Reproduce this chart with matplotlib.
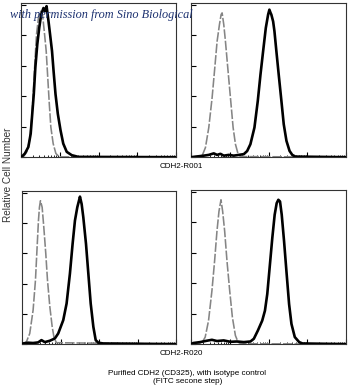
import numpy as np
import matplotlib
matplotlib.use('Agg')
from matplotlib import pyplot as plt
from matplotlib.ticker import LogLocator, NullFormatter, MultipleLocator

plt.rcParams['font.family'] = ['Liberation Sans', 'DejaVu Sans']

# log10 fluorescence / relative count (% of max)
tl_iso_x = [0.0, 0.06, 0.15, 0.22, 0.28, 0.32, 0.36, 0.40, 0.46, 0.51, 0.56, 0.60,
            0.65, 0.69, 0.73, 0.77, 0.83, 0.90, 0.99, 4.0]
tl_iso_y = [0, 0.2, 3.5, 11, 26, 43.6, 63, 80.5, 93.5, 95.7, 92.4, 82.6,
            69.6, 52.3, 35, 19.7, 8.9, 2.4, 0.2, 0]
tl_ab_x = [0.0, 0.017, 0.10, 0.19, 0.25, 0.29, 0.33, 0.37, 0.42, 0.47, 0.52, 0.58,
           0.62, 0.66, 0.71, 0.75, 0.80, 0.84, 0.89, 0.95, 1.02, 1.09, 1.18, 1.31,
           1.48, 4.0]
tl_ab_y = [0, 0.2, 2.4, 6.7, 15.4, 28.4, 41.4, 58.8, 74, 84.8, 93.5, 97.8,
           95.7, 99, 89, 80.5, 69.6, 56.6, 41.4, 28.4, 17.6, 8.9, 3.5, 1.3,
           0.2, 0]

tr_iso_x = [0.0, 0.284, 0.37, 0.456, 0.542, 0.611, 0.671, 0.731, 0.774, 0.80, 0.843,
            0.886, 0.946, 1.015, 1.084, 1.144, 1.213, 1.273, 4.0]
tr_iso_y = [0, 0.9, 6.3, 19.4, 39, 58.6, 76, 86.9, 93.5, 94.6, 86.9,
            76, 58.6, 39, 19.4, 8.5, 2, 0.4, 0]
tr_ab_x = [0.0, 0.327, 0.456, 0.585, 0.671, 0.757, 0.843, 0.972, 1.10, 1.23, 1.36,
           1.445, 1.53, 1.634, 1.72, 1.79, 1.858, 1.927, 1.987, 2.02, 2.05, 2.07,
           2.116, 2.15, 2.20, 2.26, 2.33, 2.39, 2.46, 2.54, 2.61, 2.69, 4.0]
tr_ab_y = [0, 1, 1.5, 2.5, 1.5, 2.2, 1, 1.5, 1, 1.5, 2,
           4, 8.5, 19.4, 36.8, 54.2, 69.5, 84.7, 93.5, 96.7, 94.6, 93.5,
           89, 82.6, 69.5, 54.2, 36.8, 21.6, 10.7, 4.1, 1.5, 0.4, 0]

bl_iso_x = [0.0, 0.113, 0.2, 0.287, 0.348, 0.391, 0.426, 0.452, 0.478, 0.522, 0.565,
            0.617, 0.661, 0.722, 0.783, 0.835, 0.896, 4.0]
bl_iso_y = [0, 1.5, 7, 22.4, 42.1, 64, 81.6, 90.4, 94.7, 90.4, 77.2,
            59.6, 42.1, 24.6, 11.4, 3.7, 0.9, 0]
bl_ab_x = [0.0, 0.026, 0.157, 0.287, 0.417, 0.504, 0.591, 0.722, 0.852, 0.939, 1.07,
           1.157, 1.243, 1.313, 1.374, 1.435, 1.478, 1.504, 1.548, 1.591, 1.661,
           1.722, 1.783, 1.852, 1.913, 1.983, 2.11, 4.0]
bl_ab_y = [0, 0.4, 0.9, 0.7, 1.1, 2.6, 1.3, 2.2, 3.7, 7, 15.8,
           26.8, 46.5, 66.2, 81.6, 90.4, 94.7, 97.4, 92.5, 83.8, 66.2,
           46.5, 26.8, 11.4, 2.6, 0.9, 0.4, 0]

br_iso_x = [0.0, 0.277, 0.364, 0.45, 0.537, 0.606, 0.667, 0.719, 0.771, 0.814, 0.866,
            0.926, 0.996, 1.065, 1.143, 1.212, 1.273, 4.0]
br_iso_y = [0, 0.7, 4.6, 15.4, 34.9, 54.4, 74, 87, 94.6, 87, 74,
            54.4, 34.9, 17.6, 5.6, 1.3, 0.2, 0]
br_ab_x = [0.0, 0.06, 0.234, 0.407, 0.537, 0.667, 0.84, 1.013, 1.186, 1.359, 1.532,
           1.619, 1.723, 1.835, 1.905, 1.965, 2.026, 2.095, 2.156, 2.208, 2.251,
           2.294, 2.338, 2.398, 2.459, 2.528, 2.589, 2.675, 2.788, 2.874, 4.0]
br_ab_y = [0, 0.7, 1.3, 2.2, 2.8, 2, 2.4, 1.5, 1.7, 1.3, 1.7,
           3.5, 8.9, 15.4, 21.9, 32.8, 50.1, 69.6, 84.8, 92.4, 94.6,
           93.5, 84.8, 67.5, 47.9, 26.2, 13.2, 4.6, 1.3, 0.4, 0]

panels = [
    ([0.060, 0.598, 0.443, 0.394], tl_iso_x, tl_iso_y, tl_ab_x, tl_ab_y),
    ([0.546, 0.598, 0.443, 0.394], tr_iso_x, tr_iso_y, tr_ab_x, tr_ab_y),
    ([0.063, 0.120, 0.440, 0.391], bl_iso_x, bl_iso_y, bl_ab_x, bl_ab_y),
    ([0.546, 0.120, 0.443, 0.394], br_iso_x, br_iso_y, br_ab_x, br_ab_y),
]

fig = plt.figure(figsize=(3.5, 3.91), dpi=100)

for rect, ix, iy, ax_, ay in panels:
    ax = fig.add_axes(rect)
    ax.plot(10 ** np.array(ix), iy, color='#858585', lw=1.15,
            linestyle=(0, (6, 1.2)), zorder=2)
    ax.plot(10 ** np.array(ax_), ay, color='black', lw=1.9, zorder=3)
    ax.set_xscale('log')
    ax.set_xlim(1, 1e4)
    ax.set_ylim(0, 101)
    ax.xaxis.set_major_locator(LogLocator(base=10, numticks=10))
    ax.xaxis.set_minor_locator(LogLocator(base=10, subs=np.arange(2, 10), numticks=10))
    ax.yaxis.set_major_locator(MultipleLocator(20))
    ax.xaxis.set_major_formatter(NullFormatter())
    ax.xaxis.set_minor_formatter(NullFormatter())
    ax.yaxis.set_major_formatter(NullFormatter())
    ax.tick_params(which='major', direction='in', length=3.5, width=0.8)
    ax.tick_params(which='minor', direction='in', length=1.8, width=0.6)
    for s in ax.spines.values():
        s.set_linewidth(0.8)
        s.set_color('#333333')

fig.text(0.517, 0.573, "CDH2-R001", fontsize=5.8, ha='center', va='center')
fig.text(0.517, 0.095, "CDH2-R020", fontsize=5.8, ha='center', va='center')
fig.text(0.022, 0.553, "Relative Cell Number", fontsize=7.2, rotation=90,
         ha='center', va='center', color='#333333')
fig.text(0.535, 0.046, "Purified CDH2 (CD325), with isotype control",
         fontsize=5.9, ha='center', va='center')
fig.text(0.535, 0.025, "(FITC secone step)", fontsize=5.9, ha='center', va='center')

fig.text(0.03, 0.962, "with permission from Sino Biological", fontsize=8.8,
         family='Liberation Serif', style='italic', color='#1c3170',
         ha='left', va='center', zorder=10)

fig.savefig('out.png', dpi=100)
